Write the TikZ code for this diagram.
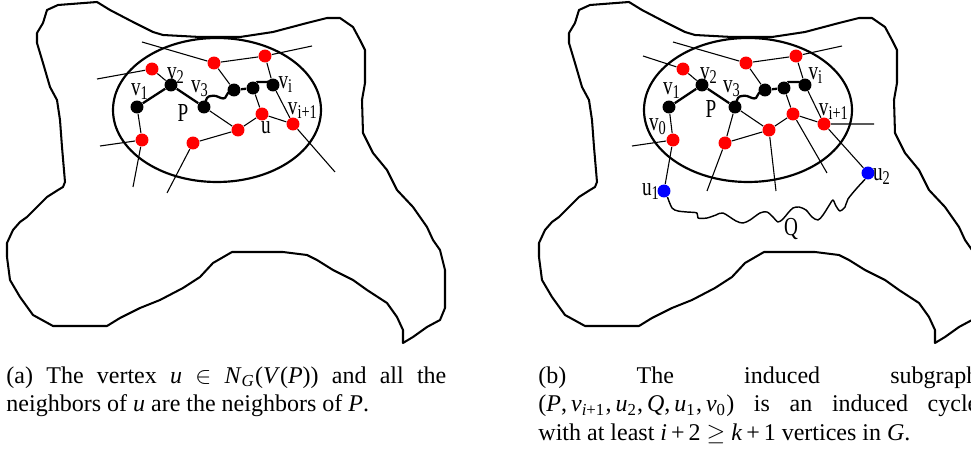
\documentclass[tikz,border=0pt]{standalone}
\usepackage{fontspec}
\setmainfont{Liberation Serif}
\usetikzlibrary{calc}

\newcommand{\mvar}[1]{\textit{#1}}
\newcommand{\tallab}[1]{\scalebox{1}[1.35]{#1}}

\begin{document}
\begin{tikzpicture}[x=0.4167pt, y=-0.4167pt, line join=round,
    blob/.style={line width=0.85pt},
    region/.style={line width=0.9pt},
    edge/.style={line width=0.45pt},
    pathedge/.style={line width=0.95pt},
    reddot/.style={circle, fill=red, inner sep=0pt, minimum size=5.4pt},
    blackdot/.style={circle, fill=black, inner sep=0pt, minimum size=5.4pt},
    bluedot/.style={circle, fill=blue, inner sep=0pt, minimum size=5.4pt},
    lab/.style={inner sep=0pt, font=\fontsize{8}{8}\selectfont},
    captext/.style={anchor=north west, inner sep=0pt, text width=183.3pt,
      align=justify, font=\fontsize{10}{12}\selectfont}]
  \useasboundingbox (0,0) rectangle (971,455);
  \clip (0,0) rectangle (971,455);
  % Graph G: the same hand-drawn outline in both panels
  \foreach \dx in {0,532} {
    \draw[blob, shift={(\dx,0)}]
      (97,2) -- (58,5) -- (47,10) -- (43,23) -- (37,33) -- (37,43) -- (43,63)
      -- (50,87) -- (57,100) -- (60,120) -- (62,147) -- (65,182) -- (63,187)
      -- (58,190) -- (47,197) -- (37,207) -- (27,217) -- (20,222) -- (13,230)
      -- (7,243) -- (7,257) -- (10,280) -- (20,297) -- (33,315) -- (53,326)
      -- (107,326) -- (120,318) -- (140,308) -- (160,300) -- (183,288)
      -- (200,277) -- (213,263) -- (232,252) -- (283,252) -- (307,255)
      -- (317,260) -- (333,270) -- (353,280) -- (367,290) -- (387,303)
      -- (397,317) -- (403,330) -- (403,343) -- (413,337) -- (427,327)
      -- (440,320) -- (445,308) -- (445,270) -- (440,250) -- (433,240)
      -- (427,227) -- (413,207) -- (397,190) -- (387,170) -- (373,153)
      -- (363,133) -- (362,100) -- (365,83) -- (365,50) -- (360,40)
      -- (353,27) -- (340,18) -- (327,18) -- (307,23) -- (273,32) -- (240,37)
      -- (200,37) -- (163,35) -- (153,32) -- (133,22) -- (110,10) -- cycle;
  }

  % ---------- (a) ----------
  \draw[region] (217,110) ellipse [x radius=104, y radius=72];
  \node[reddot] (r1a) at (152,69) {};
  \node[reddot] (r2a) at (214,63) {};
  \node[reddot] (r3a) at (265,56) {};
  \node[reddot] (ua) at (262,114) {};
  \node[reddot] (vipa) at (293,124) {};
  \node[reddot] (r6a) at (238,130) {};
  \node[reddot] (r7a) at (193,143) {};
  \node[reddot] (r8a) at (142,140) {};
  \node[blackdot] (v1a) at (137,107) {};
  \node[blackdot] (v2a) at (171,85) {};
  \node[blackdot] (v3a) at (204,107) {};
  \node[blackdot] (b4a) at (234,90) {};
  \node[blackdot] (b5a) at (253,88) {};
  \node[blackdot] (via) at (273,85) {};
  \coordinate (e1a) at (142,42);
  \coordinate (e2a) at (312,46);
  \coordinate (e3a) at (97,79);
  \coordinate (e4a) at (100,146);
  \coordinate (e5a) at (133,187);
  \coordinate (e6a) at (167,193);
  \coordinate (e7a) at (335,172);
  % neighbours
  \draw[edge] (e1a) -- (r2a) -- (r3a) -- (e2a);
  \draw[edge] (r2a) -- (b4a);
  \draw[edge] (r3a) -- (via) -- (vipa) -- (e7a);
  \draw[edge] (b5a) -- (ua) -- (vipa);
  \draw[edge] (v3a) -- (r6a) -- (ua);
  \draw[edge] (r6a) -- (r7a) -- (e6a);
  \draw[edge] (e3a) -- (r1a) -- (v2a);
  \draw[edge] (v1a) -- (r8a) -- (e4a);
  \draw[edge] (r8a) -- (e5a);
  % the path P
  \draw[pathedge] (v1a) -- (v2a) -- (v3a);
  \draw[pathedge] plot[smooth, tension=0.6] coordinates {(v3a.center) (207,98)
    (211,96) (216,96) (221,98) (225,98) (228,93) (b4a.center)};
  \draw[pathedge] (b4a) -- (b5a);
  \draw[pathedge] (b5a) -- (257,82) -- (268,82) -- (via);
  \node[lab] (lv1a) at (140,92) {\tallab{v\textsubscript{1}}};
  \node[lab] (lv2a) at (176,76) {\tallab{v\textsubscript{2}}};
  \node[lab] (lv3a) at (200,89) {\tallab{v\textsubscript{3}}};
  \node[lab] (lvia) at (286,85) {\tallab{v\textsubscript{i}}};
  \node[lab] (lvipa) at (303,111) {\tallab{v\textsubscript{i+1}}};
  \node[lab] (lua) at (266,128) {\tallab{u}};
  \node[lab] (lpa) at (183,113) {\tallab{P}};
  \node[captext] (capa) at (6,366) {(a) The vertex \mvar{u} $\in$
    \mvar{N}\textsubscript{\mvar{G}}(\mvar{V}(\mvar{P})) and all the\linebreak
    neighbors of \mvar{u} are the neighbors of \mvar{P}.};

  % ---------- (b) ----------
  \draw[region] (748,110) ellipse [x radius=104, y radius=72];
  \node[reddot] (r1b) at (683,69) {};
  \node[reddot] (r2b) at (746,63) {};
  \node[reddot] (r3b) at (796,56) {};
  \node[reddot] (ub) at (793,114) {};
  \node[reddot] (vipb) at (824,124) {};
  \node[reddot] (r6b) at (769,130) {};
  \node[reddot] (r7b) at (725,143) {};
  \node[reddot] (v0b) at (673,140) {};
  \node[blackdot] (v1b) at (669,107) {};
  \node[blackdot] (v2b) at (702,85) {};
  \node[blackdot] (v3b) at (735,107) {};
  \node[blackdot] (b4b) at (765,90) {};
  \node[blackdot] (b5b) at (784,88) {};
  \node[blackdot] (vib) at (805,85) {};
  \node[bluedot] (u1b) at (664,191) {};
  \node[bluedot] (u2b) at (868,173) {};
  \coordinate (e1b) at (673,42);
  \coordinate (e2b) at (842,46);
  \coordinate (e3b) at (643,56);
  \coordinate (e4b) at (632,146);
  \coordinate (e6b) at (707,191);
  \coordinate (e7b) at (776,191);
  \coordinate (e8b) at (827,173);
  \coordinate (e9b) at (874,124);
  % neighbours
  \draw[edge] (e1b) -- (r2b) -- (r3b) -- (e2b);
  \draw[edge] (r2b) -- (b4b);
  \draw[edge] (r3b) -- (vib) -- (vipb) -- (e9b);
  \draw[edge] (vipb) -- (u2b);
  \draw[edge] (b5b) -- (ub) -- (vipb);
  \draw[edge] (ub) -- (e8b);
  \draw[edge] (v3b) -- (r6b) -- (ub);
  \draw[edge] (r6b) -- (e7b);
  \draw[edge] (v3b) -- (r7b) -- (r6b);
  \draw[edge] (r7b) -- (e6b);
  \draw[edge] (e3b) -- (r1b) -- (v2b);
  \draw[edge] (v1b) -- (v0b) -- (e4b);
  \draw[edge] (v0b) -- (u1b);
  % the path P
  \draw[pathedge] (v1b) -- (v2b) -- (v3b);
  \draw[pathedge] plot[smooth, tension=0.6] coordinates {(v3b.center) (738,98)
    (742,96) (747,96) (752,98) (756,98) (759,93) (b4b.center)};
  \draw[pathedge] (b4b) -- (b5b);
  \draw[pathedge] (b5b) -- (788,82) -- (799,82) -- (vib);
  % the path Q outside the region
  \draw[edge, line width=0.6pt] plot[smooth, tension=0.5] coordinates {(u2b.245)
    (857,188) (848,199) (845,207) (840,211) (836,206) (833,200) (830,204)
    (823,215) (818,220) (812,217) (806,210) (799,207) (793,208) (788,213)
    (783,219) (778,222) (773,217) (767,212) (760,213) (750,220) (743,223)
    (736,221) (723,213) (716,215) (707,218) (698,218) (697,213) (687,212)
    (678,211) (672,208) (u1b.-60)};
  \node[lab] (lv0b) at (658,127) {\tallab{v\textsubscript{0}}};
  \node[lab] (lv1b) at (672,91) {\tallab{v\textsubscript{1}}};
  \node[lab] (lv2b) at (709,76) {\tallab{v\textsubscript{2}}};
  \node[lab] (lv3b) at (732,89) {\tallab{v\textsubscript{3}}};
  \node[lab] (lvib) at (816,76) {\tallab{v\textsubscript{i}}};
  \node[lab] (lvipb) at (834,112) {\tallab{v\textsubscript{i+1}}};
  \node[lab] (lu1b) at (651,192) {\tallab{u\textsubscript{1}}};
  \node[lab] (lu2b) at (882,177) {\tallab{u\textsubscript{2}}};
  \node[lab] (lpb) at (711,109) {\tallab{P}};
  \node[lab] (lqb) at (791,229) {\tallab{Q}};
  \node[captext] (capb) at (538,366) {(b) The induced subgraph\linebreak
    (\mvar{P},\,\mvar{v}\textsubscript{\mvar{i}+1},\,\mvar{u}\textsubscript{2},\,\mvar{Q},\,\mvar{u}\textsubscript{1},\,\mvar{v}\textsubscript{0})
    is an induced cycle\linebreak
    with at least \mvar{i}\,+\,2 $\geq$ \mvar{k}\,+\,1 vertices in \mvar{G}.};
\end{tikzpicture}
\end{document}
